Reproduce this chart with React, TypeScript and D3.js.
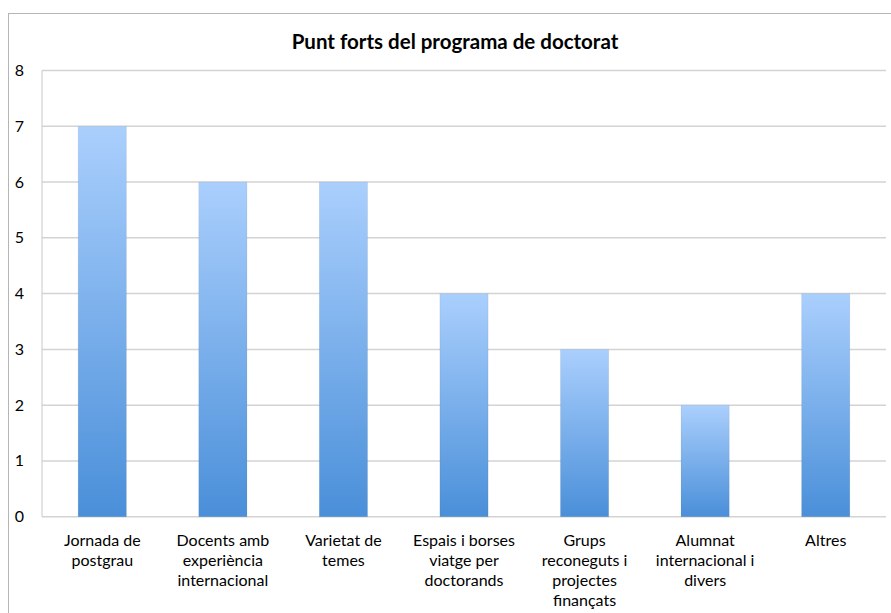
import React, { useEffect, useRef } from 'react';
import * as d3 from 'd3';

const categories = [
  ['Jornada de', 'postgrau'],
  ['Docents amb', 'experiència', 'internacional'],
  ['Varietat de', 'temes'],
  ['Espais i borses', 'viatge per', 'doctorands'],
  ['Grups', 'reconeguts i', 'projectes', 'finançats'],
  ['Alumnat', 'internacional i', 'divers'],
  ['Altres'],
];
const values = [7, 6, 6, 4, 3, 2, 4];
const yTicks = [0, 1, 2, 3, 4, 5, 6, 7, 8];
const title = 'Punt forts del programa de doctorat';

const W = 891;
const H = 613;
const FONT = 'Lato, "Open Sans", sans-serif';

const App = () => {
  const svgRef = useRef<SVGSVGElement>(null);

  useEffect(() => {
    const svg = d3.select(svgRef.current);
    svg.selectAll('*').remove();

    const left = 42;
    const right = 886;
    const top = 70.5;
    const bottom = 516.7;

    const keys = categories.map((c) => c.join(' '));
    const x = d3.scaleBand().domain(keys).range([left, right]).paddingInner(0.6).paddingOuter(0.3);
    const y = d3.scaleLinear().domain([0, 8]).range([bottom, top]);

    const defs = svg.append('defs');
    const grad = defs
      .append('linearGradient')
      .attr('id', 'barGrad')
      .attr('x1', 0)
      .attr('y1', 0)
      .attr('x2', 0)
      .attr('y2', 1);
    grad.append('stop').attr('offset', '0%').attr('stop-color', '#aacffd');
    grad.append('stop').attr('offset', '100%').attr('stop-color', '#4a8fd9');

    // outer frame
    svg
      .append('rect')
      .attr('x', 8.5)
      .attr('y', 13.5)
      .attr('width', W)
      .attr('height', H + 10)
      .attr('fill', 'white')
      .attr('stroke', '#b5b5b5')
      .attr('stroke-width', 1);

    svg
      .append('text')
      .attr('x', 455)
      .attr('y', 49)
      .attr('text-anchor', 'middle')
      .attr('font-family', FONT)
      .attr('font-weight', 'bold')
      .attr('font-size', 20.5)
      .attr('fill', '#000')
      .text(title);

    // gridlines
    svg
      .append('g')
      .selectAll('line')
      .data(yTicks)
      .enter()
      .append('line')
      .attr('x1', left)
      .attr('x2', right)
      .attr('y1', (d) => y(d))
      .attr('y2', (d) => y(d))
      .attr('stroke', '#d3d3d3')
      .attr('stroke-width', 1.5);

    svg
      .append('line')
      .attr('x1', left)
      .attr('x2', left)
      .attr('y1', top)
      .attr('y2', bottom)
      .attr('stroke', '#c8c8c8')
      .attr('stroke-width', 1);

    svg
      .append('g')
      .selectAll('text')
      .data(yTicks)
      .enter()
      .append('text')
      .attr('x', 24)
      .attr('y', (d) => y(d) + 5.5)
      .attr('text-anchor', 'end')
      .attr('font-family', FONT)
      .attr('font-size', 16)
      .attr('fill', '#000')
      .text((d) => d);

    // bars
    svg
      .append('g')
      .selectAll('rect')
      .data(values)
      .enter()
      .append('rect')
      .attr('x', (d, i) => x(keys[i]) as number)
      .attr('y', (d) => y(d))
      .attr('width', x.bandwidth())
      .attr('height', (d) => bottom - y(d))
      .attr('fill', 'url(#barGrad)')
      .attr('stroke', 'rgba(0,0,0,0.06)')
      .attr('stroke-width', 1);

    // category labels
    const labels = svg
      .append('g')
      .selectAll('text')
      .data(categories)
      .enter()
      .append('text')
      .attr('text-anchor', 'middle')
      .attr('font-family', FONT)
      .attr('font-size', 16)
      .attr('fill', '#000')
      .attr('transform', (d, i) => `translate(${(x(keys[i]) as number) + x.bandwidth() / 2},545.5)`);

    labels
      .selectAll('tspan')
      .data((d) => d)
      .enter()
      .append('tspan')
      .attr('x', 0)
      .attr('y', (d, j) => j * 20)
      .text((d) => d);
  }, []);

  return <svg ref={svgRef} width={W} height={H} style={{ position: 'absolute', left: 0, top: 0 }}></svg>;
};

export default App;
